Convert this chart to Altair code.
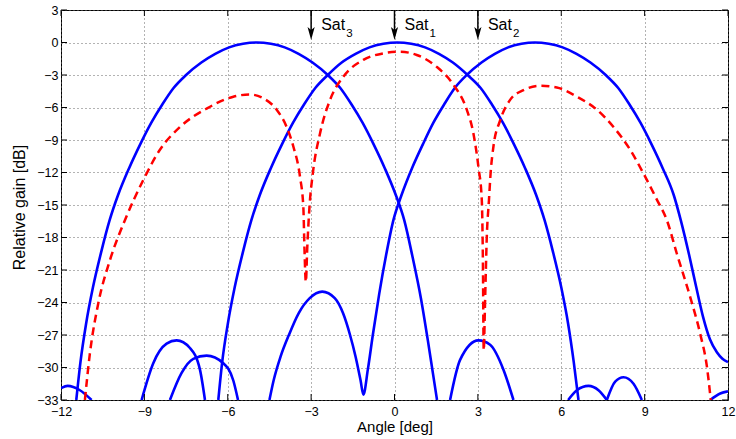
import altair as alt
import pandas as pd

# ---------------- data ----------------
x_ticks = [-12, -9, -6, -3, 0, 3, 6, 9, 12]
y_ticks = [-33, -30, -27, -24, -21, -18, -15, -12, -9, -6, -3, 0, 3]

# Blue beam patterns: each visible lobe segment (angle [deg], gain [dB])
left_main_x = [-11.45, -11.30, -11.10, -10.85, -10.55, -10.25, -9.95, -9.55, -9.15, -8.75, -8.35,
               -7.95, -7.50, -6.95, -6.45, -5.95, -5.45, -4.95, -4.45, -3.95, -3.45, -2.95, -2.40,
               -1.95, -1.55, -1.15, -0.75, -0.35, 0.05, 0.35, 0.65, 0.95, 1.20, 1.38, 1.53]
left_main_y = [-33.0, -29.5, -26.0, -22.6, -19.3, -16.4, -14.1, -11.6, -9.4, -7.4, -5.7,
               -4.2, -3.0, -1.85, -1.05, -0.45, -0.12, 0.0, -0.12, -0.45, -1.05, -1.85, -3.0,
               -4.2, -5.7, -7.4, -9.4, -11.6, -14.1, -16.4, -19.8, -23.6, -27.5, -30.5, -33.0]

center_main_x = [-6.34, -6.20, -6.00, -5.75, -5.45, -5.15, -4.85, -4.45, -4.05, -3.65, -3.25,
                 -2.85, -2.40, -1.90, -1.40, -0.90, -0.40, 0.10, 0.60, 1.10, 1.60, 2.10, 2.63,
                 3.10, 3.50, 3.90, 4.30, 4.70, 5.10, 5.40, 5.70, 6.00, 6.25, 6.45, 6.62]
center_main_y = [-33.0, -29.5, -26.0, -22.6, -19.3, -16.4, -14.1, -11.6, -9.4, -7.4, -5.7,
                 -4.2, -3.0, -1.85, -1.05, -0.45, -0.12, 0.0, -0.12, -0.45, -1.05, -1.85, -3.0,
                 -4.2, -5.7, -7.4, -9.4, -11.6, -14.1, -16.4, -19.3, -22.6, -26.0, -29.5, -33.0]

right_main_x = [-4.50, -4.35, -4.10, -3.80, -3.45, -3.05, -2.60, -2.15, -1.85, -1.60, -1.40, -1.22,
                -1.12, -0.96, -0.78, -0.55, -0.30, -0.04, 0.25, 0.63, 1.02, 1.40, 1.79, 2.17, 2.60,
                3.13, 3.61, 4.09, 4.57, 5.05, 5.55, 6.05, 6.55, 7.05, 7.60, 8.05, 8.45, 8.85, 9.25,
                9.65, 10.05, 10.30, 10.60, 10.85, 11.10, 11.35, 11.60, 11.80, 12.00]
right_main_y = [-33.0, -31.2, -29.0, -27.0, -25.0, -23.6, -23.0, -23.6, -25.0, -27.0, -29.0, -31.2,
                -32.5, -30.2, -27.0, -23.2, -19.6, -16.4, -14.1, -11.6, -9.4, -7.4, -5.7, -4.2, -3.0,
                -1.85, -1.05, -0.45, -0.12, 0.0, -0.12, -0.45, -1.05, -1.85, -3.0, -4.2, -5.7, -7.4, -9.4,
                -11.6, -14.1, -16.4, -19.6, -22.5, -25.3, -27.4, -28.6, -29.2, -29.5]

side1_x = [2.0, 2.36, 3.02, 3.44, 3.92, 4.28]
side1_y = [-33.0, -29.3, -27.5, -27.9, -30.2, -33.0]

side2_x = [-9.1, -8.68, -8.2, -7.84, -7.36, -7.0, -6.82]
side2_y = [-33.0, -29.6, -27.8, -27.5, -28.2, -30.2, -33.0]

side3_x = [-8.08, -7.66, -7.24, -6.76, -6.16, -5.80, -5.63]
side3_y = [-33.0, -30.5, -29.2, -28.9, -29.6, -31.2, -33.0]

side4_x = [-12.0, -11.76, -11.32, -10.9]
side4_y = [-31.9, -31.7, -32.1, -33.0]

side5_x = [6.25, 6.56, 6.98, 7.34, 7.64]
side5_y = [-33.0, -32.1, -31.7, -32.1, -33.0]

side6_x = [7.64, 7.94, 8.24, 8.6, 8.9]
side6_y = [-33.0, -31.3, -30.9, -31.5, -33.0]

side7_x = [11.36, 11.72, 12.0]
side7_y = [-33.0, -32.4, -32.2]

# Red dashed combined pattern
red_x = [-11.14, -10.96, -10.66, -10.24, -9.70, -9.04, -8.44, -7.72, -6.76, -5.8, -5.2, -4.72,
         -4.24, -3.88, -3.64, -3.40, -3.28, -3.24, -3.19, -3.14, -3.06, -2.94, -2.68, -2.32, -1.84,
         -1.12, -0.4, 0.2, 0.8, 1.52, 2.12, 2.6, 2.84, 3.02, 3.14, 3.18, 3.21, 3.26, 3.32, 3.40,
         3.46, 3.56, 3.80, 4.16, 4.64, 5.24, 5.84, 6.56, 7.28, 7.88, 8.48, 8.96, 9.44, 9.8, 10.16,
         10.64, 11.0, 11.24, 11.38]
red_y = [-33.0, -28.7, -24.1, -20.1, -16.4, -12.7, -9.9, -7.8, -6.1, -5.0, -4.8, -5.15,
         -6.2, -7.8, -9.6, -12.4, -15.2, -19.0, -22.1, -19.0, -15.2, -12.1, -8.4, -5.3, -3.15,
         -1.6, -1.0, -0.85, -1.15, -2.25, -3.9, -6.2, -8.4, -11.5, -14.5, -20.0, -28.4, -23.8, -18.0, -14.5,
         -12.0, -9.6, -7.2, -5.3, -4.4, -4.0, -4.15, -5.0, -6.2, -7.8, -9.9, -12.1, -14.5, -16.4, -19.5,
         -23.5, -26.9, -29.9, -33.0]

sat_x = [-3, 0, 3]
sat_names = ["Sat", "Sat", "Sat"]
sat_subs = ["3", "1", "2"]

# ---------------- build tables ----------------
blue_parts = [
    ("left", left_main_x, left_main_y), ("center", center_main_x, center_main_y),
    ("right", right_main_x, right_main_y), ("s1", side1_x, side1_y), ("s2", side2_x, side2_y),
    ("s3", side3_x, side3_y), ("s4", side4_x, side4_y), ("s5", side5_x, side5_y),
    ("s6", side6_x, side6_y), ("s7", side7_x, side7_y),
]
rows = []
for name, xs, ys in blue_parts:
    for i, (a, b) in enumerate(zip(xs, ys)):
        rows.append({"x": a, "y": b, "seg": name, "i": i})
blue_df = pd.DataFrame(rows)
red_df = pd.DataFrame({"x": red_x, "y": red_y, "i": list(range(len(red_x)))})
xt_df = pd.DataFrame({"x": x_ticks})
yt_df = pd.DataFrame({"y": y_ticks})
sat_df = pd.DataFrame({"x": sat_x, "name": sat_names, "sub": sat_subs})

FONT = "Liberation Sans"
W, H = 667, 390
xscale = alt.Scale(domain=[-12, 12], nice=False, zero=False)
yscale = alt.Scale(domain=[-33, 3], nice=False, zero=False)

xaxis = alt.Axis(values=x_ticks, title="Angle [deg]", grid=True, gridDash=[1, 3], gridColor="#666666",
                 gridWidth=1, ticks=False, domain=False, labelFont=FONT, labelFontSize=12.5,
                 labelPadding=5, labelColor="black", labelFlush=False, labelOverlap=False,
                 titleFont=FONT, titleFontSize=15, titleFontWeight="normal", titleColor="black",
                 titleY=31, titleBaseline="alphabetic")
yaxis = alt.Axis(values=y_ticks, title="Relative gain [dB]", grid=True, gridDash=[1, 3], gridColor="#666666",
                 gridWidth=1, ticks=False, domain=False, labelFont=FONT, labelFontSize=12.5,
                 labelPadding=3, labelColor="black", labelFlush=False, labelOverlap=False,
                 titleFont=FONT, titleFontSize=16, titleFontWeight="normal", titleColor="black",
                 titleX=-42, titleY=197, titleAlign="center", titleBaseline="middle")

X = alt.X("x:Q", scale=xscale, axis=xaxis)
Y = alt.Y("y:Q", scale=yscale, axis=yaxis)

blue = alt.Chart(blue_df).mark_line(color="#0000FF", strokeWidth=2.6, interpolate="monotone", clip=True).encode(
    x=X, y=Y, detail="seg:N", order="i:Q",
)
red = alt.Chart(red_df).mark_line(color="#FF0000", strokeWidth=2.5, strokeDash=[8, 5],
                                   interpolate="monotone", clip=True).encode(
    x=X, y=Y, order="i:Q",
)

TL = 6
tick_bottom = alt.Chart(xt_df).mark_rule(color="black", strokeWidth=1).encode(
    x=X, y=alt.value(H), y2=alt.value(H - TL))
tick_top = alt.Chart(xt_df).mark_rule(color="black", strokeWidth=1).encode(
    x=X, y=alt.value(0), y2=alt.value(TL))
tick_left = alt.Chart(yt_df).mark_rule(color="black", strokeWidth=1).encode(
    y=Y, x=alt.value(0), x2=alt.value(TL))
tick_right = alt.Chart(yt_df).mark_rule(color="black", strokeWidth=1).encode(
    y=Y, x=alt.value(W), x2=alt.value(W - TL))

shaft = alt.Chart(sat_df).mark_rule(color="black", strokeWidth=1.5).encode(
    x=X, y=alt.value(0), y2=alt.value(25))
head = alt.Chart(sat_df).mark_point(shape="M-0.55,-1L0,1L0.55,-1L0,-0.55Z", filled=True, color="black",
                                    size=169, opacity=1).encode(
    x=X, y=alt.value(23.5))
label = alt.Chart(sat_df).mark_text(align="left", baseline="alphabetic", dx=10, font=FONT,
                                    fontSize=16, color="black").encode(
    x=X, y=alt.value(20), text="name:N")
sub = alt.Chart(sat_df).mark_text(align="left", baseline="alphabetic", dx=35, font=FONT,
                                  fontSize=11.5, color="black").encode(
    x=X, y=alt.value(27), text="sub:N")

chart = alt.layer(blue, red, tick_bottom, tick_top, tick_left, tick_right, shaft, head, label, sub).properties(
    width=W, height=H,
    autosize=alt.AutoSizeParams(type="none"),
    padding={"left": 61, "top": 10, "right": 8, "bottom": 39},
    background="white",
).configure_view(stroke="black", strokeWidth=1)

chart.save("out.html", embed_options={"renderer": "svg", "actions": False})
